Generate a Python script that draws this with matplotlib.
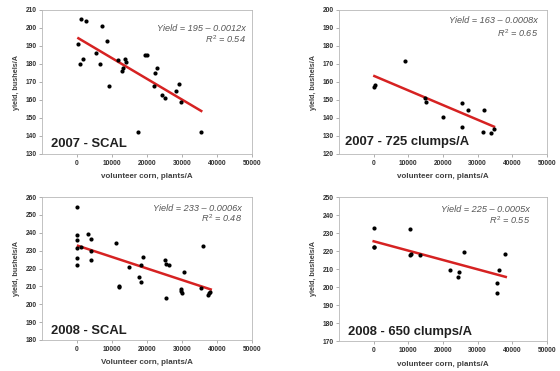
import numpy as np
import matplotlib
matplotlib.use("Agg")
import matplotlib.pyplot as plt

plt.rcParams['font.family'] = ['Liberation Sans', 'DejaVu Sans']
plt.rcParams['mathtext.fontset'] = 'custom'
plt.rcParams['mathtext.it'] = 'Liberation Sans:italic'
plt.rcParams['mathtext.rm'] = 'Liberation Sans'

# 2007 - SCAL
x_07scal = [400, 800, 1060, 1740, 2600, 5500, 6660, 7140, 8500, 9170, 11680, 12840,
            13130, 13700, 14090, 17370, 19300, 19880, 21900, 22200, 22880, 24420,
            25000, 28190, 29250, 29830, 35330]
y_07scal = [191, 180, 205, 183, 204, 186, 180, 201, 193, 168, 182, 176,
            178, 183, 181, 142, 185, 185, 168, 175, 178, 163,
            161, 165, 169, 159, 142]
line_07scal = ([400, 35500], [194.3, 153.9])

# 2007 - 725 clumps/A
x_07cl = [0, 400, 9000, 14800, 15000, 19900, 25500, 25600, 27300, 31700, 31400, 33800, 34600]
y_07cl = [157, 158.3, 171.7, 151.3, 149.1, 140.7, 148.1, 135.2, 144.4, 144.4, 132.4, 131.5, 133.7]
line_07cl = ([200, 34700], [163.3, 135.2])

# 2008 - SCAL
x_08scal = [0, 0, 0, 0, 0, 0, 1000, 3100, 4100, 4100, 4100, 11000, 12000, 12100,
            14800, 17600, 18200, 18200, 18900, 25100, 25500, 26400, 25400, 30600,
            29700, 29800, 29900, 36100, 35300, 37300, 37700, 38000]
y_08scal = [254.4, 239, 235.8, 231.7, 225.6, 222.2, 232.1, 239.2, 236.7, 229.7, 225,
            234.3, 210.1, 209.4, 220.6, 215, 222.2, 212.2, 226.3, 224.5, 222.6, 221.7,
            203.6, 218.1, 208.3, 207.4, 206.2, 232.7, 209.2, 205.3, 206.4, 207]
line_08scal = ([300, 38200], [232.7, 208.3])

# 2008 - 650 clumps/A
x_08cl = [0, 0, 200, 10500, 10500, 10900, 13300, 22100, 24500, 24400, 26100, 35500, 35700, 36100, 37900]
y_08cl = [232.8, 222, 222.3, 232.1, 217.6, 218.5, 217.6, 209.3, 208.4, 205.3, 219.3, 202.5, 196.8, 209.2, 218.4]
line_08cl = ([0, 38100], [225.4, 205.6])

panels = [
    dict(x=x_07scal, y=y_07scal, line=line_07scal, ylim=(130, 210), yticks=range(130, 211, 10),
         eq='Yield = 195 \u2013 0.0012x', r2='0.54', label='2007 - SCAL',
         xlabel='volunteer corn, plants/A',
         rect=[42, 10, 210, 144], eqpos=(0.97, 0.87, 0.80), labpos=(0.045, 0.07)),
    dict(x=x_07cl, y=y_07cl, line=line_07cl, ylim=(120, 200), yticks=range(120, 201, 10),
         eq='Yield = 163 \u2013 0.0008x', r2='0.65', label='2007 - 725 clumps/A',
         xlabel='volunteer corn, plants/A',
         rect=[339, 10, 208, 144], eqpos=(0.957, 0.925, 0.84), labpos=(0.03, 0.08)),
    dict(x=x_08scal, y=y_08scal, line=line_08scal, ylim=(180, 260), yticks=range(180, 261, 10),
         eq='Yield = 233 \u2013 0.0006x', r2='0.48', label='2008 - SCAL',
         xlabel='Volunteer corn, plants/A',
         rect=[42, 197, 210, 143], eqpos=(0.953, 0.92, 0.853), labpos=(0.045, 0.065)),
    dict(x=x_08cl, y=y_08cl, line=line_08cl, ylim=(170, 250), yticks=range(170, 251, 10),
         eq='Yield = 225 \u2013 0.0005x', r2='0.55', label='2008 - 650 clumps/A',
         xlabel='volunteer corn, plants/A',
         rect=[339, 197, 208, 144], eqpos=(0.92, 0.91, 0.84), labpos=(0.045, 0.065)),
]

W, H = 560, 371
fig = plt.figure(figsize=(W / 100, H / 100), dpi=100)

for p in panels:
    l, t, w, h = p['rect']
    ax = fig.add_axes([l / W, (H - t - h) / H, w / W, h / H])
    ax.plot(p['line'][0], p['line'][1], color='#d62222', lw=1.8, zorder=2)
    ax.scatter(p['x'], p['y'], s=9, color='black', zorder=3, linewidths=0)
    ax.set_xlim(-10000, 50000)
    ax.set_ylim(*p['ylim'])
    ax.set_xticks(range(0, 50001, 10000))
    ax.set_yticks(list(p['yticks']))
    ax.tick_params(labelsize=4.8, length=2, width=0.5, color='#909090',
                   labelcolor='#303030', pad=2)
    for lab in ax.get_xticklabels() + ax.get_yticklabels():
        lab.set_fontweight('bold')
    for s in ax.spines.values():
        s.set_color('#b8b8b8')
        s.set_linewidth(0.6)
    ax.set_xlabel(p['xlabel'], fontsize=5.8, fontweight='bold', color='#404040', labelpad=5)
    ax.set_ylabel('yield, bushels/A', fontsize=5.2, fontweight='bold', color='#404040', labelpad=4)
    ex, ey1, ey2 = p['eqpos']
    ax.text(ex, ey1, p['eq'], transform=ax.transAxes, ha='right', va='center',
            fontsize=6.6, style='italic', color='#555555')
    ax.text(ex, ey2, r'$R^2$ = ' + p['r2'], transform=ax.transAxes, ha='right', va='center',
            fontsize=6.6, style='italic', color='#555555')
    ax.text(p['labpos'][0], p['labpos'][1], p['label'], transform=ax.transAxes,
            ha='left', va='center', fontsize=9.4, fontweight='bold', color='#202020')

fig.savefig('out.png', dpi=100)
